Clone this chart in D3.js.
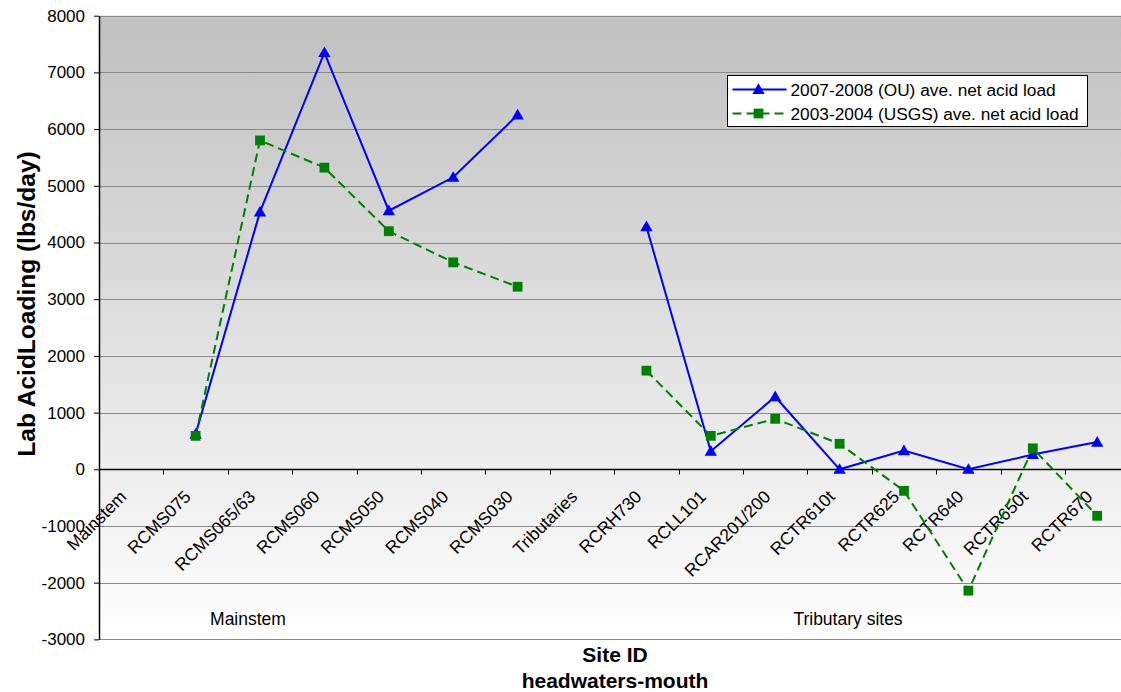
<!DOCTYPE html>
<html>
<head>
<meta charset="utf-8">
<script src="https://cdn.jsdelivr.net/npm/d3@7"></script>
<style>
  html, body { margin: 0; padding: 0; background: #ffffff; }
  svg { display: block; font-family: "Liberation Sans", Arial, sans-serif; }
</style>
</head>
<body>
<svg id="chart" width="1121" height="692"></svg>
<script>
// Sites from headwaters to mouth; "Mainstem" and "Tributaries" are group headers with no data
const categories = [
  "Mainstem", "RCMS075", "RCMS065/63", "RCMS060", "RCMS050", "RCMS040", "RCMS030",
  "Tributaries", "RCRH730", "RCLL101", "RCAR201/200", "RCTR610t", "RCTR625",
  "RCTR640", "RCTR650t", "RCTR670"
];

// 2007-2008 (OU) average net acid load, lbs/day
const ouLoad = [
  null, 620, 4540, 7350, 4560, 5150, 6250,
  null, 4280, 320, 1280, 0, 330, 0, 260, 480
];

// 2003-2004 (USGS) average net acid load, lbs/day
const usgsLoad = [
  null, 590, 5800, 5320, 4200, 3650, 3220,
  null, 1740, 590, 890, 450, -380, -2140, 370, -820
];

const yTicks = [-3000, -2000, -1000, 0, 1000, 2000, 3000, 4000, 5000, 6000, 7000, 8000];

const seriesNames = [
  "2007-2008 (OU) ave. net acid load",
  "2003-2004 (USGS) ave. net acid load"
];

const groupLabels = ["Mainstem", "Tributary sites"];

const svg = d3.select("#chart");
const W = 1121;

const plot = { left: 99, top: 15.7, bottom: 639.4, step: 64.4 };
plot.right = plot.left + plot.step * categories.length;

const x = d3.scaleBand().domain(categories).range([plot.left, plot.right]).padding(0);
const y = d3.scaleLinear().domain([-3000, 8000]).range([plot.bottom, plot.top]);
const cx = d => x(d) + x.bandwidth() / 2;

// Plot-area background: grey at the top fading to white
const defs = svg.append("defs");
const grad = defs.append("linearGradient")
  .attr("id", "bg").attr("x1", 0).attr("y1", 0).attr("x2", 0).attr("y2", 1);
grad.append("stop").attr("offset", "0%").attr("stop-color", "#c0c0c0");
grad.append("stop").attr("offset", "100%").attr("stop-color", "#ffffff");

svg.append("rect")
  .attr("x", plot.left).attr("y", plot.top)
  .attr("width", W - plot.left).attr("height", plot.bottom - plot.top)
  .attr("fill", "url(#bg)");

// Horizontal gridlines
svg.append("g").selectAll("line")
  .data(yTicks.filter(t => t !== 0))
  .join("line")
  .attr("x1", plot.left).attr("x2", W)
  .attr("y1", d => Math.round(y(d)) + 0.5).attr("y2", d => Math.round(y(d)) + 0.5)
  .attr("stroke", "#8a8a8a").attr("stroke-width", 1);

// Y axis (plain hyphen for negative values)
const yAxis = svg.append("g")
  .attr("transform", `translate(${plot.left},0)`)
  .call(d3.axisLeft(y).tickValues(yTicks).tickSize(5).tickSizeOuter(0)
    .tickPadding(9).tickFormat(d => String(d)));
yAxis.select(".domain").attr("stroke", "#000").attr("stroke-width", 1.5);
yAxis.selectAll(".tick line").attr("stroke", "#000");
yAxis.selectAll(".tick text")
  .attr("font-size", 17).attr("fill", "#000")
  .attr("font-family", "Liberation Sans, Arial, sans-serif");

// X axis along zero, ticks at category boundaries
const y0 = Math.round(y(0)) + 0.5;
svg.append("line")
  .attr("x1", plot.left).attr("x2", W)
  .attr("y1", y0).attr("y2", y0)
  .attr("stroke", "#000").attr("stroke-width", 1.5);
svg.append("g").selectAll("line")
  .data(categories.slice(1))
  .join("line")
  .attr("x1", d => Math.round(x(d)) + 0.5).attr("x2", d => Math.round(x(d)) + 0.5)
  .attr("y1", y0).attr("y2", y0 + 5)
  .attr("stroke", "#000");

// Rotated category labels
svg.append("g").selectAll("text")
  .data(categories)
  .join("text")
  .attr("transform", d => `translate(${cx(d) - 8},${y0 + 24}) rotate(-45)`)
  .attr("text-anchor", "end")
  .attr("dy", "0.35em")
  .attr("font-size", 17.5)
  .attr("fill", "#000")
  .text(d => d);

// Group labels under the axis
svg.append("g").selectAll("text")
  .data(groupLabels)
  .join("text")
  .attr("x", (d, i) => i === 0 ? 248 : 848)
  .attr("y", 625)
  .attr("text-anchor", "middle")
  .attr("font-size", 17.5)
  .text(d => d);

// Series lines (gaps where a site has no value)
const line = d3.line()
  .defined(d => d.v !== null)
  .x(d => cx(d.c))
  .y(d => y(d.v));

const ouPts = categories.map((c, i) => ({ c, v: ouLoad[i] }));
const usgsPts = categories.map((c, i) => ({ c, v: usgsLoad[i] }));

svg.append("path").datum(ouPts)
  .attr("d", line).attr("fill", "none")
  .attr("stroke", "#0000ff").attr("stroke-width", 2);

svg.append("path").datum(usgsPts)
  .attr("d", line).attr("fill", "none")
  .attr("stroke", "#008000").attr("stroke-width", 2)
  .attr("stroke-dasharray", "9,5");

const tri = d3.symbol().type(d3.symbolTriangle).size(66)();
const sq = d3.symbol().type(d3.symbolSquare).size(96)();

svg.append("g").selectAll("path")
  .data(ouPts.filter(d => d.v !== null))
  .join("path")
  .attr("d", tri)
  .attr("transform", d => `translate(${cx(d.c)},${y(d.v) + 1})`)
  .attr("fill", "#0000ff");

svg.append("g").selectAll("path")
  .data(usgsPts.filter(d => d.v !== null))
  .join("path")
  .attr("d", sq)
  .attr("transform", d => `translate(${cx(d.c)},${y(d.v)})`)
  .attr("fill", "#008000");

// Legend
const lg = svg.append("g").attr("transform", "translate(727.5,75.5)");
lg.append("rect").attr("width", 360).attr("height", 51)
  .attr("fill", "#fff").attr("stroke", "#000").attr("stroke-width", 1);
const rows = [
  { name: seriesNames[0], color: "#0000ff", dash: null, marker: tri, dy: 1, y: 14 },
  { name: seriesNames[1], color: "#008000", dash: "9,5", marker: sq, dy: 0, y: 38 }
];
rows.forEach(r => {
  lg.append("line")
    .attr("x1", 5).attr("x2", 59).attr("y1", r.y).attr("y2", r.y)
    .attr("stroke", r.color).attr("stroke-width", 2)
    .attr("stroke-dasharray", r.dash);
  lg.append("path").attr("d", r.marker)
    .attr("transform", `translate(31,${r.y + r.dy})`)
    .attr("fill", r.color);
  lg.append("text")
    .attr("x", 63).attr("y", r.y).attr("dy", "0.35em")
    .attr("font-size", 17.3).text(r.name);
});

// Axis titles
svg.append("text")
  .attr("transform", "translate(26,304) rotate(-90)")
  .attr("text-anchor", "middle").attr("dy", "0.35em")
  .attr("font-size", 24.5).attr("font-weight", "bold")
  .text("Lab AcidLoading (lbs/day)");

svg.append("text")
  .attr("x", 615).attr("y", 662)
  .attr("text-anchor", "middle")
  .attr("font-size", 21).attr("font-weight", "bold")
  .text("Site ID");

svg.append("text")
  .attr("x", 615).attr("y", 688)
  .attr("text-anchor", "middle")
  .attr("font-size", 21).attr("font-weight", "bold")
  .text("headwaters-mouth");
</script>
</body>
</html>
